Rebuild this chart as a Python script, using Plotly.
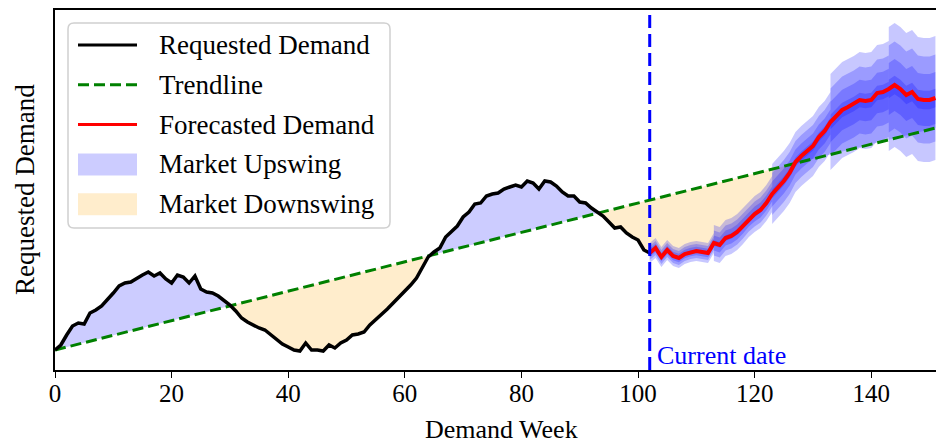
import plotly.graph_objects as go
import numpy as np

# ---------------- data ----------------
hist_weeks = list(range(0, 103))
hist_demand = [20, 25, 35, 44, 47, 46, 57, 60, 64, 70,
               77, 84, 87, 88, 92, 95, 98, 94, 97, 91,
               87, 95, 93, 87, 94, 81, 78, 77, 74, 70,
               65, 59, 52, 48, 45, 42, 40, 35, 30, 26,
               23, 20, 19, 27, 20, 20, 19, 25, 22, 27,
               30, 35, 36, 38, 45, 50, 55, 61, 67, 73,
               78, 85, 92, 102, 113, 118, 122, 133, 139, 144,
               153, 158, 166, 167, 174, 176, 177, 181, 183, 185,
               183, 189, 187, 181, 189, 188, 184, 178, 174, 174,
               168, 167, 162, 158, 154, 148, 142, 143, 137, 133,
               130, 120, 117]

fc_weeks = list(range(102, 152))
fc_demand = [117, 122, 113, 120, 114, 112, 116, 118, 119, 118,
             117, 127, 125, 132, 134, 138, 144, 151, 156, 160,
             167, 176, 182, 189, 197, 208, 214, 219, 224, 233,
             239, 248, 254, 260, 263, 266, 270, 269, 270, 277,
             278, 281, 285, 281, 275, 278, 271, 270, 270, 272]

trend_intercept = 20.0
trend_slope = 1.47

# forecast uncertainty: chunk boundaries (weeks), outer half-width per chunk
band_chunks = [(102, 113), (113, 123), (123, 133), (133, 143), (143, 151)]
band_spread = [10, 18, 30, 48, 62]
band_levels = [1.0, 0.7, 0.42, 0.15]

x_ticks = [0, 20, 40, 60, 80, 100, 120, 140]
current_week = 102

# ---------------- geometry helpers ----------------
W, H = 936, 443
ML, MR, MT, MB = 55, 0, 10, 73
PW, PH = W - ML - MR, H - MT - MB
X_MAX = 151.1
Y_MAX = 360


def px(xp):
    return (xp - ML) / PW


def py(yp):
    return (H - MB - yp) / PH


def trend(x):
    return trend_intercept + trend_slope * np.asarray(x, dtype=float)


FONT = "Liberation Serif, Times New Roman, serif"

fig = go.Figure()

# ---------- upswing / downswing fills ----------
all_x = hist_weeks + fc_weeks[1:]
all_y = hist_demand + fc_demand[1:]
xs, ys = [], []
for i in range(len(all_x)):
    xs.append(all_x[i])
    ys.append(all_y[i])
    if i < len(all_x) - 1:
        d0 = all_y[i] - trend(all_x[i])
        d1 = all_y[i + 1] - trend(all_x[i + 1])
        if d0 * d1 < 0:
            xc = all_x[i] + d0 / (d0 - d1) * (all_x[i + 1] - all_x[i])
            xs.append(xc)
            ys.append(float(trend(xc)))
xs = np.array(xs)
ys = np.array(ys)
ts = trend(xs)

for name, col, func in [("Market Upswing", "rgba(0,0,255,0.2)", np.maximum),
                        ("Market Downswing", "rgba(255,165,0,0.2)", np.minimum)]:
    fig.add_trace(go.Scatter(x=xs, y=ts, mode="lines", line=dict(width=0),
                             showlegend=False, hoverinfo="skip"))
    fig.add_trace(go.Scatter(x=xs, y=func(ys, ts), mode="lines", line=dict(width=0),
                             fill="tonexty", fillcolor=col, name=name,
                             showlegend=False))

# ---------- forecast bands ----------
fc_arr = np.array(fc_demand, dtype=float)
fw = np.array(fc_weeks)
for (a, b), spread in zip(band_chunks, band_spread):
    m = (fw >= a) & (fw <= b)
    bx = fw[m]
    by = fc_arr[m]
    for lev in band_levels:
        hw = spread * lev
        fig.add_trace(go.Scatter(
            x=np.concatenate([bx, bx[::-1]]),
            y=np.concatenate([by + hw, (by - hw)[::-1]]),
            mode="lines", line=dict(width=0), fill="toself",
            fillcolor="rgba(0,0,255,0.22)", showlegend=False, hoverinfo="skip"))

# ---------- trend ----------
tx = np.array([0, X_MAX])
fig.add_trace(go.Scatter(x=tx, y=trend(tx), mode="lines", name="Trendline",
                         line=dict(color="green", width=3, dash="11px,5px"),
                         showlegend=False))

# ---------- demand lines ----------
fig.add_trace(go.Scatter(x=hist_weeks, y=hist_demand, mode="lines",
                         name="Requested Demand",
                         line=dict(color="black", width=3.5), showlegend=False))
fig.add_trace(go.Scatter(x=fc_weeks, y=fc_demand, mode="lines",
                         name="Forecasted Demand",
                         line=dict(color="red", width=4), showlegend=False))

# ---------- current date ----------
fig.add_trace(go.Scatter(x=[current_week, current_week], y=[0, Y_MAX], mode="lines",
                         line=dict(color="blue", width=3, dash="13px,6px"),
                         showlegend=False, hoverinfo="skip"))

annotations = [
    dict(x=current_week, xref="x", xshift=5, y=py(355), yref="paper",
         text="Current date", showarrow=False, xanchor="left", yanchor="middle",
         font=dict(family=FONT, size=26, color="blue")),
    dict(x=px(501), xref="paper", y=py(429), yref="paper", text="Demand Week",
         showarrow=False, xanchor="center", yanchor="middle",
         font=dict(family=FONT, size=26, color="black")),
    dict(x=px(25), xref="paper", y=py(190), yref="paper", text="Requested Demand",
         showarrow=False, xanchor="center", yanchor="middle", textangle=-90,
         font=dict(family=FONT, size=27, color="black")),
]

# ---------- manual legend ----------
shapes = []
bx0, by0, bx1, by1, r = 68, 23, 390, 228, 6
path = (f"M {px(bx0 + r)},{py(by0)} L {px(bx1 - r)},{py(by0)} "
        f"Q {px(bx1)},{py(by0)} {px(bx1)},{py(by0 + r)} "
        f"L {px(bx1)},{py(by1 - r)} Q {px(bx1)},{py(by1)} {px(bx1 - r)},{py(by1)} "
        f"L {px(bx0 + r)},{py(by1)} Q {px(bx0)},{py(by1)} {px(bx0)},{py(by1 - r)} "
        f"L {px(bx0)},{py(by0 + r)} Q {px(bx0)},{py(by0)} {px(bx0 + r)},{py(by0)} Z")
shapes.append(dict(type="path", path=path, xref="paper", yref="paper",
                   fillcolor="rgba(255,255,255,0.8)",
                   line=dict(color="#d0d0d0", width=1.5), layer="above"))

legend_items = [
    ("Requested Demand", "line", "black", "solid"),
    ("Trendline", "line", "green", "dash"),
    ("Forecasted Demand", "line", "red", "solid"),
    ("Market Upswing", "patch", "rgba(0,0,255,0.2)", None),
    ("Market Downswing", "patch", "rgba(255,165,0,0.2)", None),
]
for k, (label, kind, col, dash) in enumerate(legend_items):
    yc = 45 + k * 39.8
    if kind == "line":
        shapes.append(dict(type="line", xref="paper", yref="paper",
                           x0=px(78), x1=px(137), y0=py(yc), y1=py(yc),
                           line=dict(color=col, width=3,
                                     dash="11px,5px" if dash == "dash" else "solid"),
                           layer="above"))
    else:
        shapes.append(dict(type="rect", xref="paper", yref="paper",
                           x0=px(78), x1=px(137), y0=py(yc + 11), y1=py(yc - 11),
                           fillcolor=col, line=dict(width=0), layer="above"))
    annotations.append(dict(x=px(157), xref="paper", y=py(yc), yref="paper",
                            text=label, showarrow=False, xanchor="left",
                            yanchor="middle",
                            font=dict(family=FONT, size=27, color="black")))

fig.update_layout(
    width=W, height=H, autosize=False,
    margin=dict(l=ML, r=MR, t=MT, b=MB, pad=0),
    plot_bgcolor="white", paper_bgcolor="white",
    showlegend=False,
    font=dict(family=FONT, color="black"),
    annotations=annotations,
    shapes=shapes,
    xaxis=dict(range=[0, X_MAX], tickvals=x_ticks, ticks="outside", ticklen=6,
               tickwidth=1.2, tickcolor="black", showline=True, linecolor="black",
               linewidth=1.5, mirror=True, showgrid=False, zeroline=False,
               ticklabelstandoff=-6,
               tickfont=dict(family=FONT, size=25, color="black")),
    yaxis=dict(range=[0, Y_MAX], showticklabels=False, ticks="", showline=True,
               linecolor="black", linewidth=1.5, showgrid=False, zeroline=False),
)

fig.write_html("out.html", config={"displayModeBar": False})
